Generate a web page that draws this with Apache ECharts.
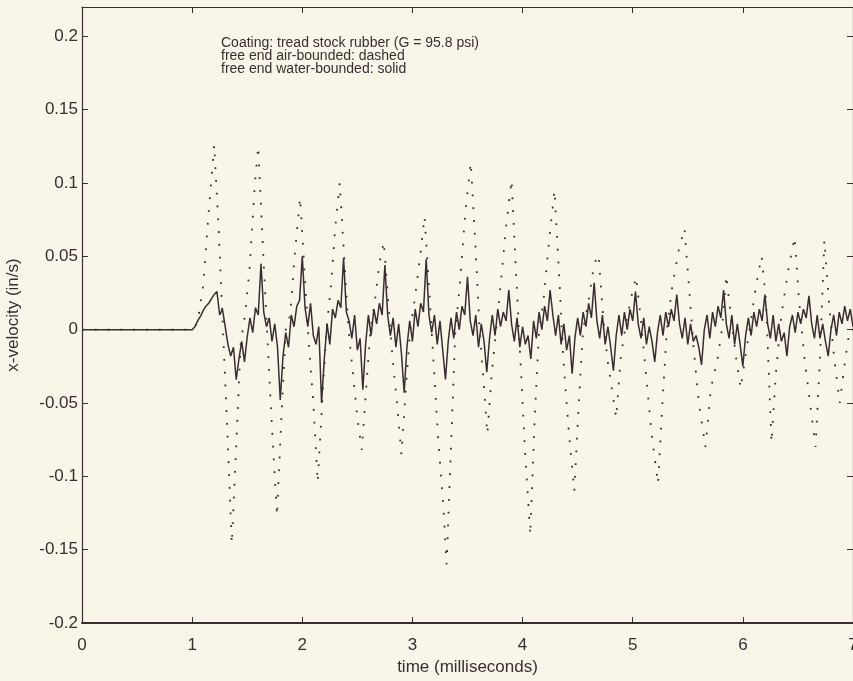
<!DOCTYPE html>
<html>
<head>
<meta charset="utf-8">
<script src="https://cdn.jsdelivr.net/npm/echarts@6/dist/echarts.min.js"></script>
<style>
html,body{margin:0;padding:0;background:#f7f6e9;overflow:hidden;}
#chart{width:853px;height:681px;}
</style>
</head>
<body>
<div id="chart"></div>
<script>
// time (ms), x-velocity (in/s)
const xTicks = [0, 1, 2, 3, 4, 5, 6, 7];
const yTicks = [-0.2, -0.15, -0.1, -0.05, 0, 0.05, 0.1, 0.15, 0.2];
const annotationLines = [
  'Coating: tread stock rubber (G = 95.8 psi)',
  'free end air-bounded: dashed',
  'free end water-bounded: solid'
];
const xName = 'time (milliseconds)';
const yName = 'x-velocity (in/s)';

// free end water-bounded (solid)
const waterBounded = [
[0,0],[1.000,0],[1.025,0.002],[1.050,0.006],[1.075,0.009],[1.100,0.013],[1.125,0.016],[1.150,0.018],[1.175,0.021],[1.200,0.024],[1.225,0.026],
[1.250,0.010],[1.275,0.014],[1.300,0.002],[1.325,-0.010],[1.350,-0.018],[1.375,-0.012],[1.400,-0.034],[1.425,-0.020],[1.450,-0.008],[1.475,-0.022],
[1.500,-0.005],[1.525,0.008],[1.550,-0.002],[1.575,0.015],[1.600,0.010],[1.625,0.045],[1.650,0.012],[1.675,0.002],[1.700,0.008],[1.725,-0.008],
[1.750,0.004],[1.775,-0.012],[1.800,-0.048],[1.825,-0.018],[1.850,-0.002],[1.875,-0.012],[1.900,0.010],[1.925,0.002],[1.950,0.016],[1.975,0.020],
[2.000,0.050],[2.025,0.015],[2.050,0.002],[2.075,0.018],[2.100,-0.004],[2.125,-0.010],[2.150,0.002],[2.175,-0.050],[2.200,-0.020],[2.225,0.004],
[2.250,-0.010],[2.275,0.014],[2.300,0.008],[2.325,0.020],[2.350,0.015],[2.375,0.049],[2.400,0.012],[2.425,0.006],[2.450,-0.006],[2.475,0.010],
[2.500,-0.014],[2.525,-0.006],[2.550,-0.041],[2.575,-0.010],[2.600,0.010],[2.625,-0.004],[2.650,0.014],[2.675,0.004],[2.700,0.018],[2.725,0.010],
[2.750,0.044],[2.775,0.010],[2.800,-0.004],[2.825,0.008],[2.850,-0.012],[2.875,0.004],[2.900,-0.016],[2.925,-0.043],[2.950,-0.012],[2.975,0.006],
[3.000,-0.008],[3.025,0.014],[3.050,0.002],[3.075,0.018],[3.100,0.012],[3.125,0.048],[3.150,0.010],[3.175,-0.002],[3.200,0.010],[3.225,-0.010],
[3.250,0.006],[3.275,-0.014],[3.300,-0.034],[3.325,-0.008],[3.350,0.008],[3.375,-0.006],[3.400,0.012],[3.425,0.000],[3.450,0.016],[3.475,0.010],
[3.500,0.036],[3.525,0.006],[3.550,-0.004],[3.575,0.010],[3.600,-0.012],[3.625,0.004],[3.650,-0.008],[3.675,-0.029],[3.700,-0.006],[3.725,0.010],
[3.750,-0.004],[3.775,0.014],[3.800,0.002],[3.825,0.012],[3.850,0.006],[3.875,0.027],[3.900,0.004],[3.925,-0.008],[3.950,0.008],[3.975,-0.012],
[4.000,0.002],[4.025,-0.010],[4.050,-0.004],[4.075,-0.020],[4.100,0.006],[4.125,-0.006],[4.150,0.012],[4.175,0.000],[4.200,0.016],[4.225,0.006],
[4.250,0.027],[4.275,0.010],[4.300,-0.004],[4.325,0.010],[4.350,-0.010],[4.375,0.004],[4.400,-0.014],[4.425,-0.004],[4.450,-0.030],[4.475,-0.006],
[4.500,0.008],[4.525,-0.004],[4.550,0.012],[4.575,0.002],[4.600,0.018],[4.625,0.008],[4.650,0.032],[4.675,0.006],[4.700,-0.006],[4.725,0.010],
[4.750,-0.010],[4.775,0.002],[4.800,-0.012],[4.825,-0.028],[4.850,-0.004],[4.875,0.010],[4.900,-0.004],[4.925,0.012],[4.950,0.000],[4.975,0.014],
[5.000,0.006],[5.025,0.026],[5.050,0.004],[5.075,-0.006],[5.100,0.008],[5.125,-0.010],[5.150,0.002],[5.175,-0.008],[5.200,-0.022],[5.225,-0.002],
[5.250,0.010],[5.275,-0.004],[5.300,0.012],[5.325,0.002],[5.350,0.014],[5.375,0.006],[5.400,0.024],[5.425,0.004],[5.450,-0.006],[5.475,0.008],
[5.500,-0.010],[5.525,0.004],[5.550,-0.008],[5.575,-0.004],[5.600,-0.012],[5.625,-0.024],[5.650,0.000],[5.675,0.010],[5.700,-0.006],[5.725,0.012],
[5.750,0.002],[5.775,0.016],[5.800,0.008],[5.825,0.027],[5.850,0.004],[5.875,-0.006],[5.900,0.010],[5.925,-0.010],[5.950,0.004],[5.975,-0.010],
[6.000,-0.025],[6.025,-0.004],[6.050,0.008],[6.075,-0.004],[6.100,0.012],[6.125,0.002],[6.150,0.014],[6.175,0.006],[6.200,0.024],[6.225,0.004],
[6.250,-0.006],[6.275,0.010],[6.300,-0.008],[6.325,0.004],[6.350,-0.008],[6.375,-0.002],[6.400,-0.018],[6.425,0.002],[6.450,0.010],[6.475,-0.002],
[6.500,0.012],[6.525,0.004],[6.550,0.014],[6.575,0.008],[6.600,0.023],[6.625,0.004],[6.650,-0.006],[6.675,0.010],[6.700,-0.006],[6.725,0.004],
[6.750,-0.008],[6.775,-0.018],[6.800,0.000],[6.825,0.010],[6.850,-0.004],[6.875,0.012],[6.900,0.004],[6.925,0.016],[6.950,0.006],[6.975,0.014],[7.000,0.002]
];

// free end air-bounded (dashed)
const airBounded = [
[0,0],[1.0,0],[1.05,0.005],[1.1,0.03],[1.15,0.08],[1.2,0.126],[1.24,0.07],[1.28,0.0],[1.32,-0.07],[1.36,-0.146],[1.40,-0.08],[1.44,-0.01],
[1.48,0.01],[1.52,0.04],[1.57,0.1],[1.6,0.125],[1.64,0.06],[1.68,0.0],[1.72,-0.06],[1.77,-0.127],[1.81,-0.06],[1.85,0.0],[1.89,0.01],
[1.93,0.05],[1.98,0.09],[2.02,0.04],[2.06,-0.01],[2.1,-0.05],[2.14,-0.104],[2.18,-0.05],[2.22,0.0],[2.26,0.03],[2.3,0.07],[2.34,0.1],
[2.38,0.05],[2.42,0.0],[2.46,-0.03],[2.5,-0.06],[2.54,-0.082],[2.58,-0.04],[2.62,0.0],[2.66,0.02],[2.7,0.045],[2.74,0.06],[2.78,0.02],
[2.82,-0.02],[2.86,-0.05],[2.9,-0.085],[2.94,-0.04],[2.98,0.0],[3.02,0.02],[3.07,0.05],[3.11,0.077],[3.15,0.03],[3.19,-0.02],[3.23,-0.07],
[3.28,-0.12],[3.31,-0.16],[3.35,-0.08],[3.39,0.0],[3.43,0.03],[3.48,0.08],[3.53,0.114],[3.57,0.06],[3.61,0.0],[3.64,-0.03],[3.68,-0.071],
[3.72,-0.03],[3.76,0.0],[3.8,0.03],[3.85,0.07],[3.9,0.102],[3.94,0.04],[3.98,-0.02],[4.02,-0.08],[4.07,-0.14],[4.11,-0.06],[4.15,0.0],
[4.19,0.02],[4.24,0.06],[4.29,0.095],[4.33,0.04],[4.37,-0.02],[4.42,-0.07],[4.47,-0.11],[4.51,-0.05],[4.55,0.0],[4.6,0.02],[4.65,0.045],
[4.69,0.051],[4.73,0.01],[4.77,-0.02],[4.81,-0.04],[4.85,-0.06],[4.89,-0.02],[4.93,0.0],[4.98,0.02],[5.03,0.036],[5.07,0.01],[5.12,-0.03],
[5.17,-0.07],[5.23,-0.105],[5.27,-0.05],[5.31,0.0],[5.36,0.03],[5.42,0.055],[5.47,0.069],[5.51,0.03],[5.55,-0.01],[5.6,-0.05],[5.66,-0.08],
[5.71,-0.04],[5.77,-0.02],[5.81,0.0],[5.85,0.037],[5.89,0.01],[5.94,-0.02],[5.98,-0.04],[6.02,-0.02],[6.06,0.0],[6.12,0.03],[6.17,0.05],
[6.21,0.02],[6.26,-0.077],[6.3,-0.03],[6.35,0.01],[6.41,0.04],[6.47,0.063],[6.51,0.02],[6.56,-0.02],[6.61,-0.05],[6.66,-0.08],[6.7,-0.02],
[6.74,0.061],[6.78,0.02],[6.83,-0.02],[6.88,-0.05],[6.93,-0.02],[6.97,0.0],[7.0,0.0]
];

const ink = '#3a2d30';
const font = 'Liberation Sans, Arial, Helvetica, sans-serif';

const chart = echarts.init(document.getElementById('chart'), null, {renderer: 'canvas'});
const axisCommon = {
  axisLine: {show: true, onZero: false, lineStyle: {color: ink, width: 1.2}},
  axisTick: {show: true, inside: true, length: 6, lineStyle: {color: ink}},
  splitLine: {show: false}
};
chart.setOption({
  animation: false,
  backgroundColor: '#f7f6e9',
  grid: {left: 82, top: 7, right: 0, bottom: 58, containLabel: false, outerBoundsMode: 'none'},
  xAxis: [
    Object.assign({
      type: 'value', min: xTicks[0], max: xTicks[xTicks.length - 1], interval: 1,
      position: 'bottom',
      name: xName, nameLocation: 'middle', nameGap: 35,
      nameTextStyle: {fontFamily: font, fontSize: 17, color: ink},
      axisLabel: {fontFamily: font, fontSize: 17, color: ink, margin: 14}
    }, axisCommon, {axisLine: {show: true, onZero: false, lineStyle: {color: ink, width: 2}}}),
    Object.assign({
      type: 'value', min: xTicks[0], max: xTicks[xTicks.length - 1], interval: 1,
      position: 'top', axisLabel: {show: false}
    }, axisCommon)
  ],
  yAxis: [
    Object.assign({
      type: 'value', min: yTicks[0], max: 0.22, interval: 0.05,
      position: 'left',
      name: yName, nameLocation: 'middle', nameGap: 60, nameRotate: 90,
      nameTextStyle: {fontFamily: font, fontSize: 17, color: ink},
      axisLabel: {fontFamily: font, fontSize: 17, color: ink, margin: 4, showMaxLabel: false}
    }, axisCommon),
    Object.assign({
      type: 'value', min: yTicks[0], max: 0.22, interval: 0.05,
      position: 'right', axisLabel: {show: false}
    }, axisCommon)
  ],
  series: [
    {
      type: 'line', name: 'air-bounded', data: airBounded, showSymbol: false,
      lineStyle: {color: ink, width: 1.8, type: [1.8, 11]}, z: 2
    },
    {
      type: 'line', name: 'water-bounded', data: waterBounded, showSymbol: false,
      lineStyle: {color: ink, width: 1.5}, z: 3
    }
  ],
  graphic: [{
    type: 'text', left: 221, top: 36,
    style: {
      text: annotationLines.join('\n'), font: '14px ' + font, fill: ink, lineHeight: 13
    }
  }]
});
</script>
</body>
</html>
